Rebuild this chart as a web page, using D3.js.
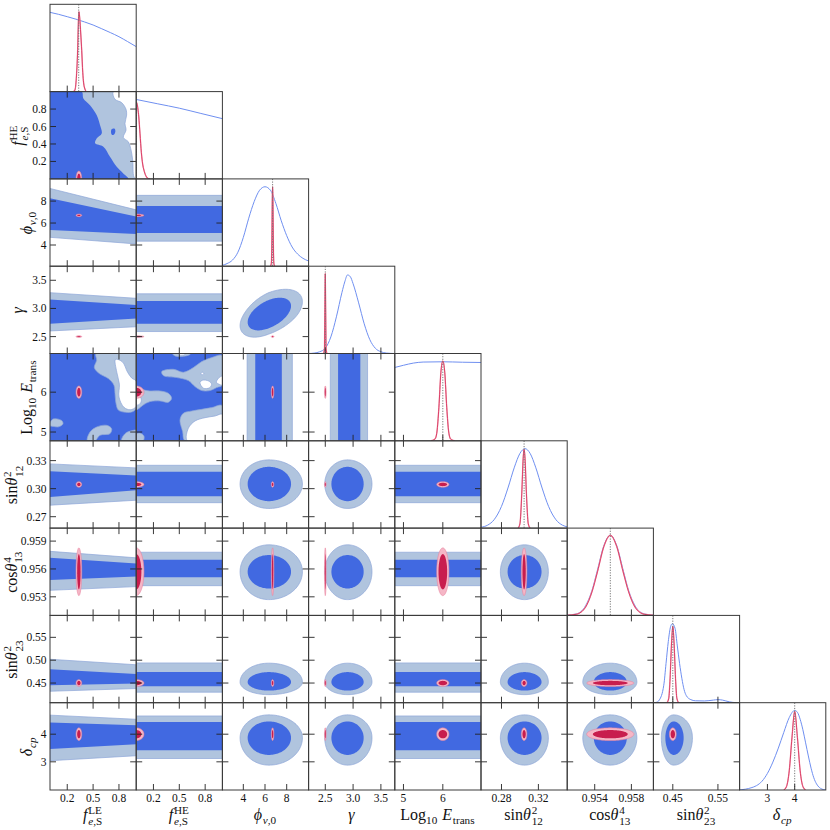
<!DOCTYPE html>
<html>
<head>
<meta charset="utf-8">
<script src="https://cdn.jsdelivr.net/npm/d3@7"></script>
<style>
  body { margin: 0; background: #fff; }
  svg { display: block; }
  text { font-family: "Liberation Serif", "DejaVu Serif", serif; fill: #111; }
</style>
</head>
<body>
<script>
// ---- data ----
const params = ["fLE", "fHE", "phi", "gamma", "logE", "s12", "c13", "s23", "dcp"];
const domains = [[0, 1], [0, 1], [2.07, 10.02], [2.2, 3.75], [4.78, 6.97],
                 [0.2578, 0.3512], [0.951, 0.9604], [0.407, 0.598], [1.98, 5.14]];
const xTicks = [[0.2, 0.5, 0.8], [0.2, 0.5, 0.8], [4, 6, 8], [2.5, 3.0, 3.5], [5, 6],
                [0.28, 0.32], [0.954, 0.958], [0.45, 0.55], [3, 4]];
const yTicks = [[], [0.2, 0.4, 0.6, 0.8], [4, 6, 8], [2.5, 3.0, 3.5], [5, 6],
                [0.27, 0.30, 0.33], [0.953, 0.956, 0.959], [0.45, 0.50, 0.55], [3, 4]];
const tickFormats = [".1f", ".1f", "d", ".1f", "d", ".2f", ".3f", ".2f", "d"];
const truths = [0.333, 0, 6.7, 2.5, 6.0, 0.3045, 0.9557, 0.45, 4.0];

// blue posterior: prior-dominated params, and 2D contour extents [lo95, lo68, hi68, hi95]
const flat = [true, true, false, false, true, false, false, false, false];
const blueCenter = [null, null, 6.35, 2.9, null, 0.305, 0.9557, 0.452, 3.87];
const blueEll = [null, null, [3.7, 4.4, 8.4, 9.45], [2.49, 2.61, 3.19, 3.34], null,
                 [0.2788, 0.2866, 0.3234, 0.3308], [0.9527, 0.9539, 0.9575, 0.9586],
                 [0.4246, 0.4335, 0.474, 0.4935], [2.88, 3.25, 4.46, 4.7]];
const blueBand = [null, null, [4.35, 5.1, 7.55, 8.52], [2.59, 2.73, 3.13, 3.26], null,
                  [0.285, 0.292, 0.318, 0.325], [0.9542, 0.9551, 0.957, 0.9578],
                  [0.43, 0.443, 0.474, 0.494], [3.12, 3.42, 4.44, 4.66]];
const bandLeLeft = [null, null, [4.7, 5.36, 8.25, 9.15], [2.6, 2.73, 3.16, 3.28], null,
                    [0.2823, 0.2911, 0.3186, 0.3265], [0.9537, 0.9548, 0.9572, 0.9579],
                    [0.432, 0.445, 0.48, 0.502], [3.04, 3.46, 4.42, 4.69]];
const bandLeRight = [null, null, [4.1, 5.0, 6.6, 7.2], [2.675, 2.82, 3.06, 3.18], null,
                     [0.2876, 0.2982, 0.3141, 0.3222], [0.9541, 0.9552, 0.9566, 0.9572],
                     [0.438, 0.449, 0.47, 0.49], [3.22, 3.64, 4.32, 4.54]];
const pairCorr = [[2, 3, 0.5]];

// red posterior: centre and 68 / 95 contour half-widths
const redCenter = [0.335, 0, 6.7, 2.5, 6.0, 0.3045, 0.9557, 0.45, 4.0];
const redR68 = [0.02, 0.06, 0.065, 0.008, 0.11, 0.0018, 0.0019, 0.0048, 0.15];
const redR95 = [0.033, 0.09, 0.12, 0.015, 0.155, 0.003, 0.00257, 0.0075, 0.23];

// 1D marginals [value, height as fraction of panel]
const blue1D = [
  [[0, 0.908], [0.1, 0.885], [0.2, 0.858], [0.3, 0.83], [0.4, 0.798], [0.5, 0.763], [0.6, 0.72], [0.7, 0.676], [0.8, 0.629], [0.9, 0.573], [1.0, 0.515]],
  [[0, 0.91], [0.25, 0.86], [0.5, 0.81], [0.75, 0.75], [1.0, 0.69]],
  [[2.07, 0.01], [2.5, 0.03], [3, 0.07], [3.5, 0.16], [4, 0.33], [4.5, 0.55], [5, 0.74], [5.5, 0.87], [6, 0.91], [6.5, 0.87], [7, 0.72], [7.5, 0.52], [8, 0.35], [8.5, 0.22], [9, 0.14], [9.5, 0.09], [10.02, 0.06]],
  [[2.2, 0], [2.3, 0.005], [2.4, 0.02], [2.5, 0.06], [2.6, 0.19], [2.7, 0.42], [2.8, 0.7], [2.85, 0.82], [2.9, 0.9], [2.95, 0.88], [3.0, 0.8], [3.1, 0.58], [3.2, 0.34], [3.3, 0.16], [3.4, 0.06], [3.5, 0.02], [3.6, 0.005], [3.75, 0]],
  [[4.78, 0.84], [5.0, 0.865], [5.25, 0.89], [5.5, 0.902], [6, 0.905], [6.5, 0.9], [6.97, 0.897]],
  [[0.2578, 0.01], [0.265, 0.034], [0.272, 0.096], [0.28, 0.249], [0.287, 0.459], [0.294, 0.698], [0.3, 0.856], [0.3055, 0.91], [0.311, 0.856], [0.317, 0.698], [0.324, 0.459], [0.331, 0.249], [0.339, 0.096], [0.346, 0.034], [0.3512, 0.015]],
  [[0.951, 0.002], [0.952, 0.017], [0.953, 0.11], [0.9537, 0.285], [0.9543, 0.52], [0.955, 0.8], [0.9557, 0.918], [0.9564, 0.8], [0.9571, 0.52], [0.9577, 0.285], [0.9584, 0.11], [0.9594, 0.017], [0.9604, 0.002]],
  [[0.407, 0], [0.414, 0.005], [0.42, 0.03], [0.43, 0.2], [0.435, 0.45], [0.44, 0.7], [0.445, 0.87], [0.449, 0.905], [0.455, 0.85], [0.46, 0.65], [0.465, 0.45], [0.47, 0.28], [0.475, 0.15], [0.48, 0.08], [0.49, 0.035], [0.5, 0.022], [0.52, 0.02], [0.54, 0.03], [0.55, 0.035], [0.56, 0.03], [0.575, 0.01], [0.59, 0]],
  [[1.98, 0], [2.2, 0.01], [2.4, 0.025], [2.6, 0.05], [2.8, 0.1], [3.0, 0.19], [3.2, 0.32], [3.4, 0.48], [3.6, 0.66], [3.8, 0.83], [4.0, 0.912], [4.1, 0.89], [4.2, 0.81], [4.3, 0.69], [4.4, 0.54], [4.5, 0.39], [4.6, 0.25], [4.7, 0.14], [4.8, 0.07], [4.9, 0.03], [5.0, 0.01], [5.14, 0]]
];
const red1D = [
  [[0.27, 0], [0.29, 0.02], [0.305, 0.15], [0.321, 0.48], [0.33, 0.82], [0.336, 0.915], [0.345, 0.84], [0.357, 0.66], [0.368, 0.47], [0.38, 0.22], [0.39, 0.1], [0.405, 0.03], [0.42, 0]],
  [[0, 0.88], [0.01, 0.86], [0.02, 0.8], [0.03, 0.71], [0.044, 0.52], [0.06, 0.3], [0.075, 0.17], [0.09, 0.1], [0.11, 0.04], [0.13, 0.01], [0.16, 0]],
  [[6.5, 0], [6.58, 0.03], [6.63, 0.25], [6.67, 0.75], [6.7, 0.91], [6.73, 0.75], [6.77, 0.25], [6.82, 0.03], [6.9, 0]],
  [[2.47, 0], [2.485, 0.05], [2.493, 0.5], [2.5, 0.916], [2.507, 0.5], [2.515, 0.05], [2.53, 0]],
  [[5.7, 0], [5.8, 0.02], [5.85, 0.1], [5.9, 0.38], [5.95, 0.78], [6.0, 0.915], [6.05, 0.78], [6.1, 0.38], [6.15, 0.1], [6.2, 0.02], [6.3, 0]],
  [[0.298, 0], [0.3, 0.05], [0.302, 0.4], [0.3035, 0.8], [0.3045, 0.9], [0.3055, 0.8], [0.307, 0.4], [0.309, 0.05], [0.311, 0]],
  [[0.951, 0.001], [0.952, 0.013], [0.953, 0.095], [0.9537, 0.27], [0.9543, 0.5], [0.955, 0.79], [0.9557, 0.918], [0.9564, 0.79], [0.9571, 0.5], [0.9577, 0.27], [0.9584, 0.095], [0.9594, 0.013], [0.9604, 0.001]],
  [[0.437, 0], [0.441, 0.05], [0.444, 0.28], [0.447, 0.66], [0.45, 0.874], [0.453, 0.66], [0.456, 0.28], [0.459, 0.05], [0.463, 0]],
  [[3.6, 0], [3.7, 0.04], [3.8, 0.22], [3.9, 0.6], [4.0, 0.9], [4.1, 0.6], [4.2, 0.22], [4.3, 0.04], [4.4, 0]]
];

// irregular blue regions where both params are prior-dominated (level 2 = 68%, 1 = 95%, 0 = outside)
const blobs = [
  { col: 0, row: 1, base: 1, regions: [
    { level: 2, pts: [[0, 1], [0.367, 1], [0.387, 0.922], [0.464, 0.845], [0.541, 0.731], [0.58, 0.616], [0.6, 0.521], [0.541, 0.464], [0.524, 0.407], [0.619, 0.368], [0.696, 0.253], [0.774, 0.139], [0.85, 0.063], [0.909, 0], [0, 0]] },
    { level: 2, pts: [[0.715, 0.57], [0.75, 0.575], [0.758, 0.54], [0.74, 0.505], [0.715, 0.51], [0.708, 0.54]] },
    { level: 0, pts: [[0.735, 1], [0.754, 0.912], [0.831, 0.874], [0.882, 0.797], [0.889, 0.731], [0.87, 0.636], [0.882, 0.559], [0.851, 0.475], [0.909, 0.425], [0.936, 0.349], [0.959, 0.215], [0.974, 0.024], [1, 0], [1, 1]] }
  ]},
  { col: 0, row: 4, base: 2, regions: [
    { level: 1, pts: [[0.534, 6.97], [0.541, 6.8], [0.514, 6.617], [0.572, 6.466], [0.677, 6.34], [0.742, 6.172], [0.754, 5.964], [0.766, 5.713], [0.793, 5.55], [0.858, 5.5], [0.947, 5.5], [1, 5.6], [1, 6.97]] },
    { level: 0, pts: [[0.76, 6.82], [0.84, 6.76], [0.9, 6.5], [0.95, 6.35], [1, 6.28], [1, 5.64], [0.93, 5.56], [0.858, 5.62], [0.8, 5.88], [0.805, 6.2], [0.775, 6.5]] },
    { level: 1, pts: [[0, 5.23], [0.03, 5.32], [0.08, 5.33], [0.14, 5.28], [0.15, 5.2], [0.1, 5.13], [0.04, 5.14], [0, 5.16]] },
    { level: 1, pts: [[0.433, 4.78], [0.464, 5.0], [0.541, 5.126], [0.657, 5.169], [0.715, 5.085], [0.696, 4.96], [0.58, 4.918], [0.522, 4.78]] },
    { level: 1, pts: [[0.831, 4.78], [0.87, 4.96], [0.967, 5.043], [1, 5.043], [1, 4.78]] }
  ]},
  { col: 1, row: 4, base: 2, regions: [
    { level: 1, pts: [[0.296, 6.516], [0.431, 6.574], [0.547, 6.499], [0.663, 6.616], [0.76, 6.767], [0.876, 6.867], [1, 6.917], [1, 6.18], [0.934, 6.115], [0.856, 6.04], [0.76, 6.04], [0.682, 6.14], [0.605, 6.29], [0.47, 6.366], [0.315, 6.416]] },
    { level: 0, pts: [[0.74, 6.24], [0.77, 6.3], [0.84, 6.28], [0.875, 6.2], [0.85, 6.11], [0.78, 6.1]] },
    { level: 0, pts: [[0.75, 6.45], [0.765, 6.5], [0.785, 6.47], [0.77, 6.44]] },
    { level: 0, pts: [[0.93, 6.25], [0.96, 6.36], [1, 6.4], [1, 6.18], [0.96, 6.2]] },
    { level: 1, pts: [[0, 6.14], [0.063, 6.072], [0.16, 6.03], [0.276, 6.03], [0.373, 5.972], [0.411, 5.846], [0.373, 5.746], [0.276, 5.78], [0.16, 5.763], [0.083, 5.68], [0.025, 5.58], [0, 5.553]] },
    { level: 0, pts: [[0, 5.93], [0.04, 5.9], [0.06, 5.8], [0.04, 5.7], [0, 5.68]] },
    { level: 1, pts: [[0.508, 5.302], [0.547, 5.47], [0.644, 5.528], [0.76, 5.57], [0.876, 5.613], [1, 5.663], [1, 4.78], [0.566, 4.78], [0.539, 5.01]] },
    { level: 0, pts: [[0.593, 4.78], [0.605, 5.094], [0.682, 5.277], [0.798, 5.36], [0.914, 5.402], [1, 5.445], [1, 4.78]] },
    { level: 1, pts: [[0.42, 6.97], [0.45, 6.91], [0.55, 6.9], [0.62, 6.94], [0.63, 6.97]] },
    { level: 0, pts: [[0.48, 6.97], [0.5, 6.935], [0.56, 6.94], [0.57, 6.97]] },
    { level: 1, pts: [[0, 4.78], [0, 4.95], [0.05, 4.97], [0.09, 4.9], [0.08, 4.78]] }
  ]}
];

const labels = [
  [{ t: "f", i: 1 }, { sup: [{ t: "LE" }], sub: [{ t: "e", i: 1 }, { t: ",S" }] }],
  [{ t: "f", i: 1 }, { sup: [{ t: "HE" }], sub: [{ t: "e", i: 1 }, { t: ",S" }] }],
  [{ t: "ϕ", i: 1 }, { sub: [{ t: "ν", i: 1 }, { t: ",0" }] }],
  [{ t: "γ", i: 1 }],
  [{ t: "Log" }, { sub: [{ t: "10" }] }, { t: "\u00a0" }, { t: "E", i: 1 }, { sub: [{ t: "trans" }] }],
  [{ t: "sin" }, { t: "θ", i: 1 }, { sup: [{ t: "2" }], sub: [{ t: "12" }] }],
  [{ t: "cos" }, { t: "θ", i: 1 }, { sup: [{ t: "4" }], sub: [{ t: "13" }] }],
  [{ t: "sin" }, { t: "θ", i: 1 }, { sup: [{ t: "2" }], sub: [{ t: "23" }] }],
  [{ t: "δ", i: 1 }, { sub: [{ t: "cp", i: 1 }] }]
];

// ---- layout ----
const W = 830, H = 830;
const n = params.length;
const padL = 50, padT = 4.3, cw = 86.2, ch = 87.3;
const tickLen = 6;

const fillOf = l => l === 2 ? "#4169e1" : l === 1 ? "#b0c4de" : "#ffffff";
const edgeOf = l => l === 2 ? "none" : "#8ea6d8";

const svg = d3.select("body").append("svg").attr("width", W).attr("height", H);
const defs = svg.append("defs");

const xs = domains.map((d, i) => d3.scaleLinear().domain(d).range([padL + i * cw, padL + (i + 1) * cw]));
const ys = domains.map((d, j) => d3.scaleLinear().domain(d).range([padT + (j + 1) * ch, padT + j * ch]));
const hs = domains.map((d, j) => d3.scaleLinear().domain([0, 1]).range([padT + (j + 1) * ch, padT + j * ch]));

function ellipsePts(cx, cy, xr, yr, rho) {
  const s = Math.sqrt(1 - rho * rho);
  return d3.range(0, 2 * Math.PI, Math.PI / 60).map(t => {
    const u = Math.cos(t), v = rho * Math.cos(t) + s * Math.sin(t);
    return [cx + (u < 0 ? cx - xr[0] : xr[1] - cx) * u,
            cy + (v < 0 ? cy - yr[0] : yr[1] - cy) * v];
  });
}

function corrOf(i, j) {
  const c = pairCorr.find(p => p[0] === i && p[1] === j);
  return c ? c[2] : 0;
}

for (let j = 0; j < n; j++) {
  for (let i = 0; i <= j; i++) {
    const x0 = padL + i * cw, y0 = padT + j * ch;
    const id = `clip${i}_${j}`;
    defs.append("clipPath").attr("id", id)
      .append("rect").attr("x", x0).attr("y", y0).attr("width", cw).attr("height", ch);
    const g = svg.append("g").attr("clip-path", `url(#${id})`);

    if (i === j) {
      // diagonal: 1D marginals
      const dl = d3.line().x(d => xs[i](d[0])).y(d => hs[j](d[1])).curve(d3.curveMonotoneX);
      g.append("path").attr("d", dl(blue1D[i]))
        .attr("fill", "none").attr("stroke", "#6f8ff0").attr("stroke-width", 1);
      g.append("path").attr("d", dl(red1D[i]))
        .attr("fill", "none").attr("stroke", "#f4a6b8").attr("stroke-width", 1.4);
      g.append("path").attr("d", dl(red1D[i]))
        .attr("fill", "none").attr("stroke", "#d8345e").attr("stroke-width", 0.9);
      g.append("line")
        .attr("x1", xs[i](truths[i])).attr("x2", xs[i](truths[i]))
        .attr("y1", y0).attr("y2", y0 + ch)
        .attr("stroke", "#777").attr("stroke-width", 1).attr("stroke-dasharray", "1.2,1.4");
      continue;
    }

    const lin = d3.line().x(d => xs[i](d[0])).y(d => ys[j](d[1])).curve(d3.curveLinearClosed);
    const smooth = d3.line().x(d => xs[i](d[0])).y(d => ys[j](d[1])).curve(d3.curveCatmullRomClosed.alpha(0.5));
    const regions = [];

    if (flat[i] && flat[j]) {
      const b = blobs.find(b => b.col === i && b.row === j);
      g.append("rect").attr("x", x0).attr("y", y0).attr("width", cw).attr("height", ch)
        .attr("fill", fillOf(b.base));
      b.regions.forEach(r => regions.push({ level: r.level, d: smooth(r.pts) }));
    } else if (flat[i]) {
      const L = i === 0 ? bandLeLeft[j] : blueBand[j];
      const R = i === 0 ? bandLeRight[j] : blueBand[j];
      const [a, b] = domains[i];
      regions.push({ level: 1, d: lin([[a, L[0]], [b, R[0]], [b, R[3]], [a, L[3]]]) });
      regions.push({ level: 2, d: lin([[a, L[1]], [b, R[1]], [b, R[2]], [a, L[2]]]) });
    } else if (flat[j]) {
      const B = blueBand[i];
      const [a, b] = domains[j];
      regions.push({ level: 1, d: lin([[B[0], a], [B[3], a], [B[3], b], [B[0], b]]) });
      regions.push({ level: 2, d: lin([[B[1], a], [B[2], a], [B[2], b], [B[1], b]]) });
    } else {
      const rho = corrOf(i, j);
      const ex = blueEll[i], ey = blueEll[j];
      regions.push({ level: 1, d: lin(ellipsePts(blueCenter[i], blueCenter[j], [ex[0], ex[3]], [ey[0], ey[3]], rho)) });
      regions.push({ level: 2, d: lin(ellipsePts(blueCenter[i], blueCenter[j], [ex[1], ex[2]], [ey[1], ey[2]], rho)) });
    }

    regions.forEach(r => {
      g.append("path").attr("d", r.d)
        .attr("fill", fillOf(r.level))
        .attr("stroke", edgeOf(r.level)).attr("stroke-width", 0.7);
    });

    // red contours
    const cx = redCenter[i], cy = redCenter[j];
    g.append("path")
      .attr("d", lin(ellipsePts(cx, cy, [cx - redR95[i], cx + redR95[i]], [cy - redR95[j], cy + redR95[j]], 0)))
      .attr("fill", "#f5b6c6").attr("stroke", "#e8839e").attr("stroke-width", 0.6);
    g.append("path")
      .attr("d", lin(ellipsePts(cx, cy, [cx - redR68[i], cx + redR68[i]], [cy - redR68[j], cy + redR68[j]], 0)))
      .attr("fill", "#c81d4e");
  }
}

// ---- frames and inward ticks ----
const frame = svg.append("g");
for (let j = 0; j < n; j++) {
  for (let i = 0; i <= j; i++) {
    const x0 = padL + i * cw, y0 = padT + j * ch;
    const diag = i === j;
    xTicks[i].forEach(t => {
      const x = xs[i](t);
      frame.append("line").attr("x1", x).attr("x2", x).attr("y1", y0 + ch).attr("y2", y0 + ch - tickLen)
        .attr("stroke", "#222").attr("stroke-width", 0.9);
      if (!diag) frame.append("line").attr("x1", x).attr("x2", x).attr("y1", y0).attr("y2", y0 + tickLen)
        .attr("stroke", "#222").attr("stroke-width", 0.9);
    });
    if (!diag) {
      yTicks[j].forEach(t => {
        const y = ys[j](t);
        frame.append("line").attr("x1", x0).attr("x2", x0 + tickLen).attr("y1", y).attr("y2", y)
          .attr("stroke", "#222").attr("stroke-width", 0.9);
        frame.append("line").attr("x1", x0 + cw - tickLen).attr("x2", x0 + cw).attr("y1", y).attr("y2", y)
          .attr("stroke", "#222").attr("stroke-width", 0.9);
      });
    }
    frame.append("rect").attr("x", x0).attr("y", y0).attr("width", cw).attr("height", ch)
      .attr("fill", "none").attr("stroke", "#3a3a3a").attr("stroke-width", 1);
  }
}

// ---- tick labels ----
const tickSize = 11.5;
const bottomY = padT + n * ch;
for (let i = 0; i < n; i++) {
  const fmt = d3.format(tickFormats[i]);
  xTicks[i].forEach(t => {
    svg.append("text").attr("x", xs[i](t)).attr("y", bottomY + 12)
      .attr("text-anchor", "middle").attr("font-size", tickSize).text(fmt(t));
  });
}
const tickLeft = [];
for (let j = 1; j < n; j++) {
  const fmt = d3.format(tickFormats[j]);
  let minX = padL;
  yTicks[j].forEach(t => {
    const el = svg.append("text").attr("x", padL - 3.5).attr("y", ys[j](t)).attr("dy", "0.35em")
      .attr("text-anchor", "end").attr("font-size", tickSize).text(fmt(t));
    minX = Math.min(minX, el.node().getBBox().x);
  });
  tickLeft[j] = minX;
}

// ---- axis labels ----
function buildLabel(g, parts, size) {
  let x = 0;
  const small = size * 0.7;
  parts.forEach(p => {
    if (p.t !== undefined) {
      const el = g.append("text").attr("x", x).attr("y", 0).attr("font-size", size)
        .attr("font-style", p.i ? "italic" : "normal").text(p.t);
      x += el.node().getComputedTextLength() + (p.i ? 0.8 : 0);
    } else {
      let w = 0;
      const both = p.sup && p.sub;
      if (p.sup) {
        const el = g.append("text").attr("x", x).attr("y", -size * 0.4).attr("font-size", small);
        p.sup.forEach(r => el.append("tspan").attr("font-style", r.i ? "italic" : "normal").text(r.t));
        w = Math.max(w, el.node().getComputedTextLength());
      }
      if (p.sub) {
        const el = g.append("text").attr("x", x).attr("y", size * (both ? 0.32 : 0.26)).attr("font-size", small);
        p.sub.forEach(r => el.append("tspan").attr("font-style", r.i ? "italic" : "normal").text(r.t));
        w = Math.max(w, el.node().getComputedTextLength());
      }
      x += w + 1;
    }
  });
  return x;
}

const labelSize = 16;
for (let i = 0; i < n; i++) {
  const g = svg.append("g");
  const inner = g.append("g");
  const w = buildLabel(inner, labels[i], labelSize);
  inner.attr("transform", `translate(${-w / 2},0)`);
  g.attr("transform", `translate(${padL + (i + 0.5) * cw},${bottomY + 30})`);
}
for (let j = 1; j < n; j++) {
  const g = svg.append("g");
  const inner = g.append("g");
  const w = buildLabel(inner, labels[j], labelSize);
  inner.attr("transform", `translate(${-w / 2},0)`);
  const bx = Math.max(tickLeft[j] - 9, 17);
  g.attr("transform", `translate(${bx},${padT + (j + 0.5) * ch}) rotate(-90)`);
}
</script>
</body>
</html>
